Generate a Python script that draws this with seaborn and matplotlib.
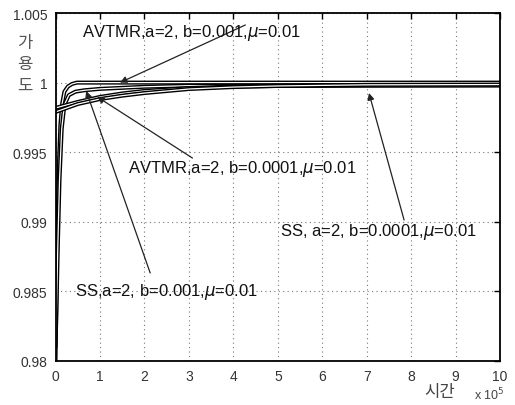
"""
Availability over time for AVTMR and SS schemes.
"""

import matplotlib.pyplot as plt
import matplotlib.patheffects as pe
import pandas as pd
import seaborn as sns


# curve values (x in units of 1e5)
avtmr_fast_x = [0, 0.02, 0.05, 0.08, 0.11, 0.15, 0.2, 0.28, 0.37, 0.48, 1, 10]
avtmr_fast_y = [0.9800, 0.9850, 0.9905, 0.9945, 0.9970, 0.9985, 0.99935,
                0.99972, 0.9999, 1.0, 1.0, 1.0]

ss_fast_x = [0, 0.02, 0.05, 0.09, 0.14, 0.2, 0.3, 0.45, 0.65, 1, 2, 3, 10]
ss_fast_y = [0.9810, 0.9835, 0.9880, 0.9930, 0.9967, 0.9984, 0.9991,
             0.99935, 0.99945, 0.99955, 0.9997, 0.99978, 0.99982]

avtmr_slow_x = [0, 0.5, 1, 1.5, 2, 3, 4, 5, 7, 10]
avtmr_slow_y = [0.99818, 0.99861, 0.99897, 0.99922, 0.99940, 0.99961,
                0.99972, 0.99976, 0.99978, 0.99979]

ss_slow_x = [0, 0.5, 1, 1.5, 2, 3, 4, 5, 7, 10]
ss_slow_y = [0.99789, 0.99846, 0.99882, 0.99906, 0.99925, 0.99954,
             0.99968, 0.99976, 0.99984, 0.99986]

x_ticks = list(range(0, 11))
y_ticks = [0.98, 0.985, 0.99, 0.995, 1.0, 1.005]
y_tick_labels = ["0.98", "0.985", "0.99", "0.995", "1", "1.005"]

# annotation labels: (text, text pos, arrow tip, arrow tail)
labels = [
    (r"AVTMR,a=2, b=0.001,$\mu$=0.01", (0.60, 1.00365), (1.45, 1.0), (4.27, 1.00414)),
    (r"AVTMR,a=2, b=0.0001,$\mu$=0.01", (1.63, 0.99387), (0.94, 0.99897), (3.08, 0.99458)),
    (r"SS, a=2, b=0.0001,$\mu$=0.01", (5.06, 0.98934), (7.05, 0.99925), (7.84, 0.99013)),
    (r"SS,a=2, b=0.001,$\mu$=0.01", (0.44, 0.98503), (0.69, 0.99940), (2.13, 0.98632)),
]


def build_dataframe() -> pd.DataFrame:
    frames = []
    for name, xs, ys in [
        ("avtmr_fast", avtmr_fast_x, avtmr_fast_y),
        ("ss_fast", ss_fast_x, ss_fast_y),
        ("avtmr_slow", avtmr_slow_x, avtmr_slow_y),
        ("ss_slow", ss_slow_x, ss_slow_y),
    ]:
        frames.append(pd.DataFrame({"time": xs, "avail": ys, "curve": name}))
    return pd.concat(frames, ignore_index=True)


def main() -> None:
    sns.set_style("white")
    plt.rcParams["font.family"] = ["Liberation Sans", "Noto Sans CJK KR"]
    plt.rcParams["mathtext.fontset"] = "dejavusans"

    df = build_dataframe()

    fig = plt.figure(figsize=(5.15, 4.06), dpi=100)
    ax = fig.add_axes([0.1078, 0.1084, 0.8633, 0.8571])

    for name, group in df.groupby("curve", sort=False):
        sns.lineplot(
            data=group, x="time", y="avail", ax=ax, sort=False,
            estimator=None, color="white", linewidth=0.9,
        )

    for line in ax.lines:
        line.set_path_effects([
            pe.Stroke(linewidth=2.9, foreground="black"),
            pe.Normal(),
        ])

    for text, (tx, ty), tip, tail in labels:
        ax.annotate(
            "", xy=tip, xytext=tail,
            arrowprops=dict(arrowstyle="-|>", color="#222222", lw=0.9,
                            mutation_scale=10, shrinkA=0, shrinkB=0),
        )
        ax.text(tx, ty, text, fontsize=12, color="#111111",
                ha="left", va="center")

    ax.set_xlim(0, 10)
    ax.set_ylim(0.98, 1.005)
    ax.set_xticks(x_ticks)
    ax.set_yticks(y_ticks)
    ax.set_yticklabels(y_tick_labels)
    ax.set_xlabel("")
    ax.set_ylabel("")

    ax.grid(True, linestyle=(0, (1, 3)), color="#777777", linewidth=0.8)
    ax.tick_params(direction="in", length=4, width=1, colors="black",
                   labelcolor="#333333", labelsize=10,
                   top=True, right=True, pad=6)
    for spine in ax.spines.values():
        spine.set_color("black")
        spine.set_linewidth(1.3)

    fig.text(25 / 515, 1 - 65 / 406, "가\n용\n도", fontsize=12,
             color="#555555", ha="center", va="center", linespacing=1.55)
    fig.text(440 / 515, 1 - 393 / 406, "시간", fontsize=12,
             color="#444444", ha="center", va="center")
    fig.text(489 / 515, 1 - 395 / 406, r"x 10$^5$", fontsize=9,
             color="#444444", ha="center", va="center")

    fig.savefig("out.png", dpi=100)
    plt.close(fig)


if __name__ == "__main__":
    main()
